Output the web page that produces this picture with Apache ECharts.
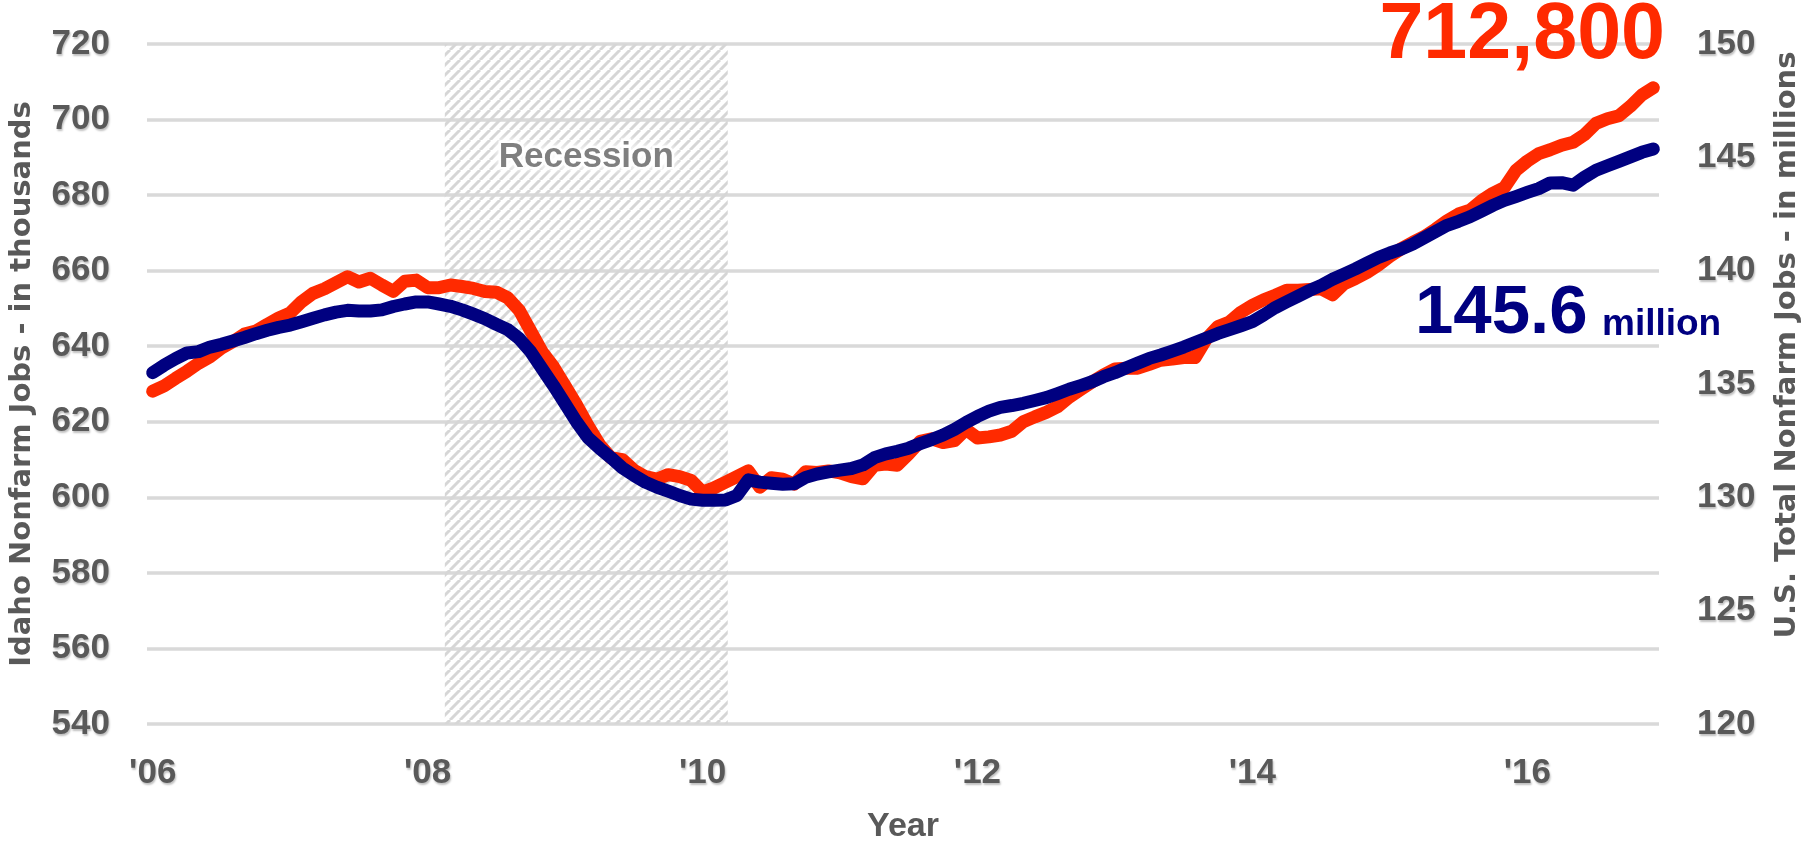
<!DOCTYPE html>
<html>
<head>
<meta charset="utf-8">
<title>Idaho and U.S. Nonfarm Jobs</title>
<script src="https://cdn.jsdelivr.net/npm/echarts@6/dist/echarts.min.js"></script>
<style>
    html, body { margin: 0; padding: 0; background: #fff; }
    #chart { width: 1805px; height: 849px; }
</style>
</head>
<body>
<div id="chart"></div>
<script>
    // monthly, Jan 2006 .. Dec 2016
    const startYear = 2006
    const endYear = 2016
    const months = []
    for (let y = startYear; y <= endYear; y++) {
        for (let m = 1; m <= 12; m++) {
            months.push(y + '-' + (m < 10 ? '0' + m : m))
        }
    }

    // Idaho nonfarm jobs, thousands (left axis)
    const idahoJobs = [
        628.1, 629.5, 631.5, 633.4, 635.5, 637.2, 639.5, 641.2, 643.2, 644.0, 645.8, 647.5,
        648.8, 651.8, 654.0, 655.2, 656.8, 658.4, 657.0, 658.0, 656.2, 654.5, 657.2, 657.5,
        655.5, 655.5, 656.2, 655.8, 655.3, 654.5, 654.3, 652.8, 649.5, 644.0, 638.5, 634.5,
        629.5, 624.5, 619.0, 614.0, 610.5, 610.0, 607.2, 605.5, 604.8, 606.0, 605.5, 604.5,
        601.4, 602.5, 604.0, 605.5, 607.0, 602.7, 605.2, 604.8, 603.5, 606.8, 606.6, 607.0,
        606.5, 605.5, 604.9, 608.5, 608.8, 608.5, 611.5, 614.8, 615.5, 614.5, 615.0, 618.0,
        615.7, 616.0, 616.5, 617.5, 620.0, 621.3, 622.5, 624.0, 626.5, 628.5, 630.5, 632.4,
        634.0, 634.2, 634.2, 635.2, 636.3, 636.6, 637.0, 637.0, 642.0, 645.2, 646.4, 649.0,
        650.8, 652.3, 653.5, 654.8, 654.8, 655.0, 655.2, 653.6, 656.5, 657.9, 659.5, 661.5,
        663.8, 665.8, 667.5, 669.0, 671.0, 673.2, 675.0, 676.0, 678.5, 680.5, 682.0, 686.5,
        689.0, 691.0, 692.0, 693.2, 694.0, 696.0, 699.0, 700.2, 701.0, 703.5, 706.5, 708.4
    ]

    // U.S. total nonfarm jobs, millions (right axis)
    const usJobs = [
        135.50, 135.83, 136.12, 136.37, 136.43, 136.63, 136.75, 136.90, 137.05, 137.22, 137.37, 137.50,
        137.60, 137.75, 137.90, 138.05, 138.17, 138.25, 138.22, 138.22, 138.27, 138.42, 138.53, 138.62,
        138.62, 138.53, 138.43, 138.27, 138.08, 137.88, 137.63, 137.40, 137.00, 136.42, 135.67, 134.92,
        134.13, 133.33, 132.63, 132.17, 131.75, 131.30, 130.97, 130.67, 130.45, 130.27, 130.08, 129.92,
        129.87, 129.87, 129.88, 130.08, 130.77, 130.67, 130.62, 130.58, 130.60, 130.88, 131.03, 131.12,
        131.20, 131.27, 131.43, 131.75, 131.92, 132.03, 132.17, 132.37, 132.55, 132.75, 133.00, 133.30,
        133.57, 133.80, 133.97, 134.05, 134.15, 134.27, 134.40, 134.58, 134.77, 134.93, 135.10, 135.32,
        135.50, 135.72, 135.92, 136.13, 136.28, 136.45, 136.63, 136.83, 137.03, 137.23, 137.40, 137.57,
        137.75, 138.05, 138.37, 138.63, 138.88, 139.13, 139.35, 139.62, 139.85, 140.08, 140.33, 140.58,
        140.78, 140.95, 141.17, 141.45, 141.73, 142.00, 142.18, 142.38, 142.63, 142.88, 143.10, 143.27,
        143.45, 143.62, 143.87, 143.88, 143.77, 144.13, 144.43, 144.63, 144.82, 145.02, 145.22, 145.37
    ]

    // recession band, in months after Jan 2006
    const recession = [26, 50.7]

    const idahoLabel = '712,800'
    const usLabel = '145.6'

    const gray = '#595959'
    const tickFont = {
        fontFamily: 'Liberation Sans',
        fontWeight: 'bold',
        fontSize: 35,
        color: gray,
        textShadowColor: 'rgba(0,0,0,0.25)',
        textShadowBlur: 2,
        textShadowOffsetX: 1,
        textShadowOffsetY: 2
    }

    // diagonal hatch for the recession band
    function hatch() {
        const s = 10
        const c = document.createElement('canvas')
        c.width = s
        c.height = s
        const ctx = c.getContext('2d')
        ctx.strokeStyle = '#d6d6d6'
        ctx.lineWidth = 3
        ctx.beginPath()
        for (const dx of [-s, 0, s]) {
            ctx.moveTo(dx, s)
            ctx.lineTo(dx + s, 0)
        }
        ctx.stroke()
        return c
    }

    const chartInstance = echarts.init(document.getElementById('chart'))

    const option = {
        animation: false,
        grid: { left: 147, right: 146, top: 44, bottom: 122 },
        xAxis: [
            {
                type: 'category',
                data: months,
                boundaryGap: true,
                axisLine: { show: false },
                axisTick: { show: false },
                axisLabel: Object.assign({}, tickFont, {
                    interval: 23,
                    margin: 32,
                    formatter: (v) => "'" + v.slice(2, 4)
                }),
                name: 'Year',
                nameLocation: 'middle',
                nameGap: 86,
                nameTextStyle: {
                    fontFamily: 'Liberation Sans',
                    fontWeight: 'bold',
                    fontSize: 34,
                    color: gray
                }
            },
            {
                type: 'value',
                min: 0,
                max: months.length,
                show: false
            }
        ],
        yAxis: [
            {
                type: 'value',
                min: 540,
                max: 720,
                interval: 20,
                axisLine: { show: false },
                axisTick: { show: false },
                axisLabel: Object.assign({}, tickFont, { margin: 37 }),
                splitLine: { lineStyle: { color: '#d9d9d9', width: 3.5 } }
            },
            {
                type: 'value',
                min: 120,
                max: 150,
                interval: 5,
                position: 'right',
                axisLine: { show: false },
                axisTick: { show: false },
                axisLabel: Object.assign({}, tickFont, { margin: 38 }),
                splitLine: { show: false }
            }
        ],
        series: [
            {
                name: 'band',
                type: 'line',
                xAxisIndex: 1,
                yAxisIndex: 0,
                data: [],
                silent: true,
                markArea: {
                    silent: true,
                    itemStyle: { color: { image: hatch(), repeat: 'repeat' } },
                    label: {
                        show: true,
                        position: 'insideTop',
                        distance: 96,
                        fontFamily: 'Liberation Sans',
                        fontWeight: 'bold',
                        fontSize: 35,
                        color: '#7f7f7f',
                        textBorderColor: 'rgba(255,255,255,0.9)',
                        textBorderWidth: 5,
                        textShadowColor: '#fff',
                        textShadowBlur: 8
                    },
                    data: [[
                        { name: 'Recession', xAxis: recession[0] },
                        { xAxis: recession[1] }
                    ]]
                }
            },
            {
                name: 'Idaho',
                type: 'line',
                yAxisIndex: 0,
                data: idahoJobs,
                showSymbol: false,
                lineStyle: { color: '#ff2a00', width: 13, cap: 'round', join: 'round' },
                z: 3
            },
            {
                name: 'U.S.',
                type: 'line',
                yAxisIndex: 1,
                data: usJobs,
                showSymbol: false,
                lineStyle: { color: '#000080', width: 13, cap: 'round', join: 'round' },
                z: 4
            }
        ],
        graphic: [
            {
                type: 'text',
                x: 22,
                y: 384,
                rotation: Math.PI / 2,
                style: {
                    text: 'Idaho Nonfarm Jobs - in thousands',
                    align: 'center',
                    verticalAlign: 'middle',
                    font: 'bold 29px "DejaVu Sans"',
                    fill: gray
                }
            },
            {
                type: 'text',
                x: 1787,
                y: 345,
                rotation: Math.PI / 2,
                style: {
                    text: 'U.S. Total Nonfarm Jobs - in millions',
                    align: 'center',
                    verticalAlign: 'middle',
                    font: 'bold 29px "DejaVu Sans"',
                    fill: gray
                }
            },
            {
                type: 'text',
                x: 1665,
                y: 36,
                z: 10,
                style: {
                    text: idahoLabel,
                    align: 'right',
                    verticalAlign: 'middle',
                    font: 'bold 79px "Liberation Sans"',
                    fill: '#ff2a00'
                }
            },
            {
                type: 'text',
                x: 1415,
                y: 314,
                z: 10,
                style: {
                    text: usLabel,
                    align: 'left',
                    verticalAlign: 'middle',
                    font: 'bold 69px "Liberation Sans"',
                    fill: '#000080'
                }
            },
            {
                type: 'text',
                x: 1602,
                y: 325,
                z: 10,
                style: {
                    text: 'million',
                    align: 'left',
                    verticalAlign: 'middle',
                    font: 'bold 37px "Liberation Sans"',
                    fill: '#000080'
                }
            }
        ]
    }

    chartInstance.setOption(option)
</script>
</body>
</html>
